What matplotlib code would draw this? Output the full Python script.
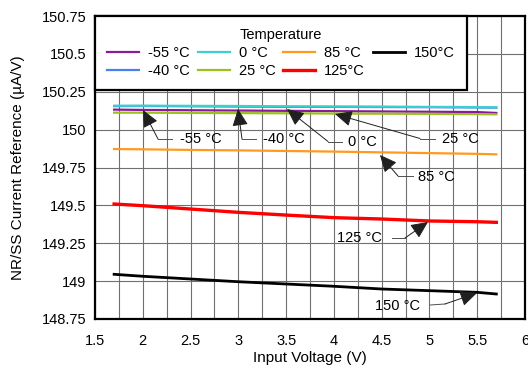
import matplotlib
matplotlib.use("Agg")
import matplotlib.pyplot as plt
import numpy as np

plt.rcParams['font.family'] = ['Liberation Sans', 'DejaVu Sans']

vin = [1.7, 2.0, 2.5, 3.0, 3.5, 4.0, 4.5, 5.0, 5.5, 5.7]
t_m55 = [150.132, 150.130, 150.128, 150.126, 150.124, 150.122, 150.120, 150.118, 150.116, 150.110]
t_m40 = [150.155, 150.156, 150.154, 150.152, 150.150, 150.150, 150.149, 150.148, 150.146, 150.145]
t_0 = [150.158, 150.158, 150.157, 150.156, 150.154, 150.153, 150.152, 150.150, 150.149, 150.147]
t_25 = [150.112, 150.112, 150.110, 150.109, 150.108, 150.106, 150.105, 150.104, 150.102, 150.101]
t_85 = [149.872, 149.870, 149.866, 149.863, 149.859, 149.855, 149.850, 149.845, 149.840, 149.837]
t_125 = [149.509, 149.498, 149.476, 149.454, 149.436, 149.419, 149.410, 149.397, 149.392, 149.388]
t_150 = [149.045, 149.032, 149.014, 148.996, 148.981, 148.966, 148.948, 148.937, 148.926, 148.915]

series_labels = ['-55 °C', '-40 °C', '0 °C', '25 °C', '85 °C', '125°C', '150°C']
series_data = [t_m55, t_m40, t_0, t_25, t_85, t_125, t_150]
series_colors = ['#8A1A9B', '#4A7FF0', '#3CCFCF', '#99C21C', '#FF9A1F', '#FF0000', '#000000']
series_lw = [1.6, 1.6, 1.6, 1.6, 1.6, 2.4, 2.0]

xticks = [1.5, 2, 2.5, 3, 3.5, 4, 4.5, 5, 5.5, 6]
xticklabels = ['1.5', '2', '2.5', '3', '3.5', '4', '4.5', '5', '5.5', '6']
yticks = [148.75, 149, 149.25, 149.5, 149.75, 150, 150.25, 150.5, 150.75]
yticklabels = ['148.75', '149', '149.25', '149.5', '149.75', '150', '150.25', '150.5', '150.75']

ann_labels = ['-55 °C', '-40 °C', '0 °C', '25 °C', '85 °C', '125 °C', '150 °C']

W, H = 528, 368
fig = plt.figure(figsize=(W / 100, H / 100), dpi=100)
L, R, T, B = 95, 525, 16, 319
ax = fig.add_axes([L / W, (H - B) / H, (R - L) / W, (B - T) / H])
ax.set_xlim(1.5, 6)
ax.set_ylim(148.75, 150.75)


def px2d(px, py):
    return 1.5 + (px - L) / (R - L) * 4.5, 148.75 + (B - py) / (B - T) * 2.0


ann_text_px = [(180, 139), (263, 139), (348, 142), (442, 139), (418, 177), (337, 238), (375, 306)]
ann_end_px = [(172, 139), (256, 139), (342, 141.5), (435, 138.5), (413, 176), (392, 238), (430, 305)]
ann_corner_px = [(158, 139), (242, 139), (328, 141.5), (420, 138.5), (398, 176), (405, 238), (445, 304)]
ann_tip_px = [(143, 110), (238, 109), (287, 109), (335, 114), (380, 155), (428, 222), (477, 293)]

ax.set_xticks(xticks)
ax.set_xticklabels(xticklabels)
ax.set_xticks(np.arange(1.75, 6.0, 0.5), minor=True)
ax.set_yticks(yticks)
ax.set_yticklabels(yticklabels)
ax.grid(True, which='both', color='#707070', lw=0.8)
ax.set_axisbelow(True)
ax.tick_params(which='both', length=0, labelsize=10.5, colors='black')
ax.tick_params(axis='x', pad=11)
ax.tick_params(axis='y', pad=6)
for s in ax.spines.values():
    s.set_linewidth(1.6)
    s.set_color('black')

handles = []
for lab, d, c, lw in zip(series_labels, series_data, series_colors, series_lw):
    h, = ax.plot(vin, d, color=c, lw=lw, label=lab, zorder=3)
    handles.append(h)

for lab, tp, ep, cp, tip in zip(ann_labels, ann_text_px, ann_end_px, ann_corner_px, ann_tip_px):
    tx, ty = px2d(*tp)
    ex, ey = px2d(*ep)
    cx, cy = px2d(*cp)
    ix, iy = px2d(*tip)
    ax.text(tx, ty, lab, fontsize=10.5, ha='left', va='center', zorder=5)
    ax.plot([ex, cx], [ey, cy], color='#505050', lw=0.7, zorder=4)
    ax.annotate('', xy=(ix, iy), xytext=(cx, cy),
                arrowprops=dict(arrowstyle='-|>,head_length=0.75,head_width=0.35',
                                color='#202020', lw=0.7, shrinkA=0, shrinkB=0,
                                mutation_scale=14), zorder=5)

leg = ax.legend(handles=handles, labels=series_labels, ncol=4, title='Temperature',
                loc='upper left', bbox_to_anchor=(0, 0, 372 / 430, 1.0), mode='expand',
                borderaxespad=0, fancybox=False, framealpha=1, edgecolor='black',
                fontsize=10.5, title_fontsize=10.5, handlelength=2.2, handletextpad=0.6,
                labelspacing=0.25, borderpad=0.85)
leg.get_frame().set_linewidth(1.6)
leg.set_zorder(6)

ax.set_xlabel('Input Voltage (V)', fontsize=11, labelpad=2)
ax.set_ylabel('NR/SS Current Reference (µA/V)', fontsize=11, labelpad=12)

fig.savefig('out.png', dpi=100)
